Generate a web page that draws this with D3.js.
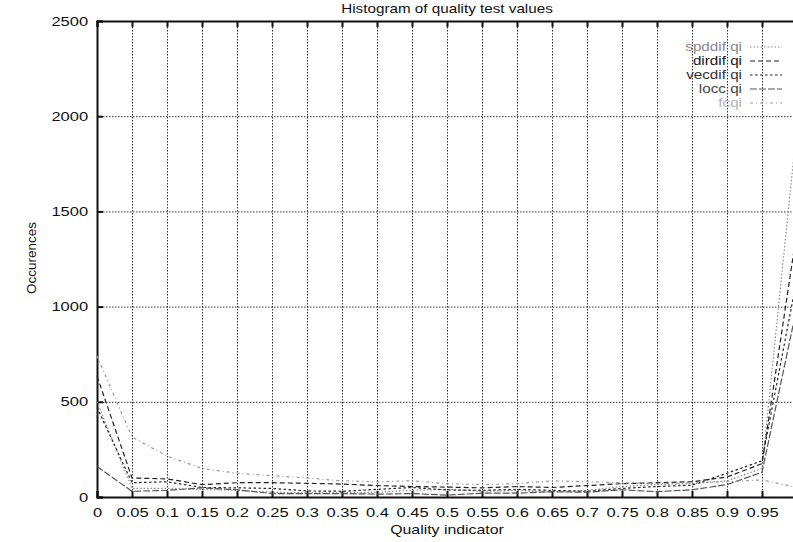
<!DOCTYPE html>
<html>
<head>
<meta charset="utf-8">
<script src="https://cdnjs.cloudflare.com/ajax/libs/d3/7.8.5/d3.min.js"></script>
<style>
body { margin: 0; background: #fff; }
svg { display: block; overflow: hidden; }
text { font-family: "Liberation Sans", Arial, sans-serif; fill: #111; }
</style>
</head>
<body>
<div id="chart"></div>
<script>
// histogram bins (quality indicator) and counts per test
var bins = [0, 0.05, 0.1, 0.15, 0.2, 0.25, 0.3, 0.35, 0.4, 0.45, 0.5,
            0.55, 0.6, 0.65, 0.7, 0.75, 0.8, 0.85, 0.9, 0.95, 1];
var spddif = [500, 45, 45, 40, 35, 25, 22, 22, 25, 35, 40, 30, 35, 25, 35, 55, 65, 70, 85, 150, 1950];
var dirdif = [635, 100, 95, 65, 75, 75, 72, 68, 60, 55, 52, 48, 55, 50, 60, 70, 75, 80, 105, 175, 1400];
var vecdif = [470, 75, 80, 50, 48, 45, 32, 30, 40, 50, 37, 35, 40, 35, 30, 45, 55, 62, 125, 190, 1150];
var locc   = [160, 30, 35, 48, 38, 18, 18, 18, 15, 18, 10, 20, 20, 28, 25, 38, 28, 38, 65, 130, 1000];
var fcqi   = [740, 315, 215, 150, 125, 112, 100, 85, 80, 85, 70, 65, 70, 85, 80, 75, 70, 75, 80, 90, 50];

var seriesNames = ["spddif qi", "dirdif qi", "vecdif qi", "locc qi", "fcqi"];
var xTicks = [0, 0.05, 0.1, 0.15, 0.2, 0.25, 0.3, 0.35, 0.4, 0.45, 0.5,
              0.55, 0.6, 0.65, 0.7, 0.75, 0.8, 0.85, 0.9, 0.95];
var yTicks = [0, 500, 1000, 1500, 2000, 2500];

var margin = {top: 21, right: -4, bottom: 45, left: 97},
    width = 793 - margin.left - margin.right,
    height = 542 - margin.top - margin.bottom

var svgRoot = d3.select("#chart")
    .append("svg")
        .attr("width", 793)
        .attr("height", 542)

var svg = svgRoot.append("g")
        .attr("transform",
            "translate(" + margin.left + "," + margin.top + ")");

var x = d3.scaleLinear().domain([0, 1]).range([0, width]);
var y = d3.scaleLinear().domain([0, 2500]).range([height, 0]);

// dotted grid
svg.append("g")
    .attr("class", "grid")
    .call(d3.axisBottom(x).tickValues(xTicks.concat([1])).tickSize(height).tickFormat(""))
    .call(g => g.select(".domain").remove())
svg.append("g")
    .attr("class", "grid")
    .call(d3.axisLeft(y).tickValues(yTicks).tickSize(-width).tickFormat(""))
    .call(g => g.select(".domain").remove())
svg.selectAll(".grid line")
    .attr("stroke", "#333")
    .attr("stroke-width", 1)
    .attr("stroke-dasharray", "1.5,1.5")

// axes with inward ticks
var stretch = "scale(1.27,1)";

var xAxis = svg.append("g")
    .attr("transform", "translate(0," + height + ")")
    .call(d3.axisBottom(x).tickValues(xTicks).tickSize(-6).tickFormat(d3.format("~g")))
xAxis.selectAll("text")
    .attr("y", 11)
    .attr("transform", stretch)
    .style("font-size", "13px")

svg.append("g")
    .call(d3.axisTop(x).tickValues(xTicks.concat([1])).tickSize(-6).tickFormat(""))

var yAxis = svg.append("g")
    .call(d3.axisLeft(y).tickValues(yTicks).tickSize(-6).tickFormat(d3.format("d")))
yAxis.selectAll("text")
    .attr("x", -7)
    .attr("transform", stretch)
    .style("font-size", "13px")

svg.selectAll(".domain").attr("stroke", "#111").attr("stroke-width", 2)
svg.selectAll(".tick line").filter(function() { return !this.closest(".grid"); })
    .attr("stroke", "#111").attr("stroke-width", 2)

// titles
svg.append("text")
    .attr("text-anchor", "middle")
    .attr("transform", "translate(" + (447 - margin.left) + "," + (13 - margin.top) + ") " + stretch)
    .style("font-size", "12px")
    .text("Histogram of quality test values")

svg.append("text")
    .attr("text-anchor", "middle")
    .attr("transform", "translate(" + (447 - margin.left) + "," + (534 - margin.top) + ") " + stretch)
    .style("font-size", "12.5px")
    .text("Quality indicator")

svg.append("text")
    .attr("text-anchor", "middle")
    .attr("transform", "translate(" + (36 - margin.left) + "," + (258 - margin.top) + ") rotate(-90)")
    .style("font-size", "13.5px")
    .text("Occurences")

// series
var styles = [
    {data: spddif, stroke: "#8a8a8a", dash: "1.5,2", text: "#888"},
    {data: dirdif, stroke: "#222", dash: "5,3", text: "#1a1a1a"},
    {data: vecdif, stroke: "#222", dash: "2.5,2.5", text: "#333"},
    {data: locc,   stroke: "#555", dash: "7,2", text: "#444"},
    {data: fcqi,   stroke: "#9a9a9a", dash: "3,3,1,3", text: "#b5b5b5"}
];

var line = d3.line()
    .x(function(d, i) { return x(bins[i]) })
    .y(function(d) { return y(d) });

styles.forEach(function(s) {
    svg.append("path")
        .datum(s.data)
        .attr("fill", "none")
        .attr("stroke", s.stroke)
        .attr("stroke-width", 1.2)
        .attr("stroke-dasharray", s.dash)
        .attr("d", line)
});

// legend
var legend = svg.append("g")
    .attr("transform", "translate(" + (742 - margin.left) + "," + (47 - margin.top) + ")")

styles.forEach(function(s, i) {
    legend.append("text")
        .attr("text-anchor", "end")
        .attr("transform", "translate(0," + (i * 14 + 4) + ") " + stretch)
        .style("font-size", "12px")
        .style("fill", s.text)
        .text(seriesNames[i])
    legend.append("line")
        .attr("x1", 8)
        .attr("x2", 40)
        .attr("y1", i * 14)
        .attr("y2", i * 14)
        .attr("stroke", s.stroke)
        .attr("stroke-width", 1.2)
        .attr("stroke-dasharray", s.dash)
});
</script>
</body>
</html>
